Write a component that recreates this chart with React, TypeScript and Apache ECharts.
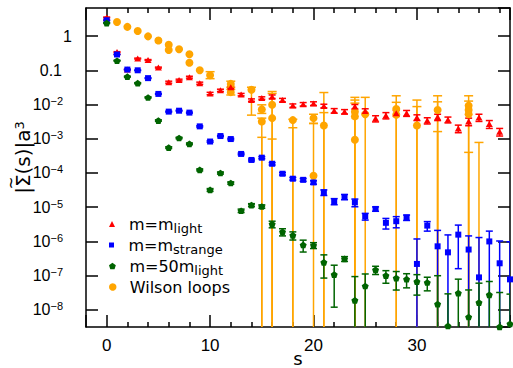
import React, { useEffect, useRef } from "react";
import * as echarts from "echarts";

// Axis ranges (s in lattice units, log10 range of the y axis)
const S_MIN = -2;
const S_MAX = 39;
const Y_MIN = Math.pow(10, -8.5);
const Y_MAX = Math.pow(10, 0.82);

// m = m_light
const lightS = [0, 1, 2, 3, 4, 5, 6, 7, 8, 9, 10, 11, 12, 13, 14, 15, 16, 17, 18, 19, 20, 21, 22, 23, 24, 25, 26, 27, 28, 29, 30, 31, 32, 33, 34, 35, 36, 37, 38];
const lightValue = [3.5, 0.34, 0.105, 0.22, 0.2, 0.12, 0.045, 0.052, 0.063, 0.042, 0.021, 0.026, 0.032, 0.0195, 0.0135, 0.0155, 0.017, 0.0135, 0.0093, 0.0102, 0.0107, 0.0091, 0.0066, 0.0062, 0.0087, 0.0065, 0.0039, 0.0048, 0.0056, 0.0056, 0.0042, 0.0034, 0.0043, 0.0036, 0.002, 0.0032, 0.0042, 0.0027, 0.0016];
const lightError = [0.1, 0.01, 0.003, 0.007, 0.006, 0.004, 0.003, 0.003, 0.004, 0.003, 0.0017, 0.002, 0.0025, 0.0016, 0.0011, 0.0013, 0.002, 0.0016, 0.0011, 0.0012, 0.0013, 0.0011, 0.001, 0.0009, 0.0013, 0.001, 0.0008, 0.001, 0.0011, 0.0011, 0.0008, 0.0007, 0.0009, 0.0007, 0.0005, 0.0008, 0.001, 0.0007, 0.0004];

// m = m_strange
const strangeS = [0, 1, 2, 3, 4, 5, 6, 7, 8, 9, 10, 11, 12, 13, 14, 15, 16, 17, 18, 19, 20, 21, 22, 23, 24, 25, 26, 27, 28, 29, 30, 31, 32, 33, 34, 35, 36, 37, 38, 39];
const strangeValue = [2.9, 0.29, 0.105, 0.1, 0.059, 0.0204, 0.0062, 0.0066, 0.0058, 0.0023, 0.00083, 0.0012, 0.00098, 0.00036, 0.00024, 0.00028, 0.000186, 9.5e-5, 6.8e-5, 6.3e-5, 5.3e-5, 2.7e-5, 1.48e-5, 2.0e-5, 1.38e-5, 5.4e-6, 8.9e-6, 3.5e-6, 3.9e-6, 5.0e-6, 2.2e-7, 2.9e-6, 7.2e-7, 4.8e-7, 1.58e-6, 5.8e-7, 8.9e-8, 1.0e-6, 2.3e-7, 7.8e-8];
const strangeError = [0.06, 0.006, 0.002, 0.002, 0.0015, 0.0006, 0.0002, 0.0002, 0.0002, 0.0001, 4e-5, 5e-5, 5e-5, 2e-5, 1.5e-5, 2e-5, 1.5e-5, 8e-6, 6e-6, 6e-6, 6e-6, 5e-6, 3e-6, 3.5e-6, 3.5e-6, 1.2e-6, 1.3e-6, 1.2e-6, 1.4e-6, 9e-7, 9.6e-7, 9e-7, 1.38e-6, 1.07e-6, 1.42e-6, 8.7e-7, 1.21e-6, 1.0e-6, 8.0e-7, 9e-7];

// m = 50 m_light
const heavyS = [0, 1, 2, 3, 4, 5, 6, 7, 8, 9, 10, 11, 12, 13, 14, 15, 16, 17, 18, 19, 20, 21, 22, 23, 24, 25, 26, 27, 28, 29, 30, 31, 32, 33, 34, 35, 36, 37, 38, 39];
const heavyValue = [2.4, 0.19, 0.065, 0.042, 0.016, 0.0034, 5.5e-4, 1.05e-3, 7.1e-4, 1.23e-4, 3.2e-5, 1.0e-4, 5.1e-5, 7.9e-6, 1.15e-5, 1.05e-5, 3.2e-6, 1.9e-6, 1.5e-6, 7.9e-7, 7.7e-7, 2.45e-7, 1.07e-7, 3.1e-7, 1.9e-8, 5.0e-8, 1.48e-7, 1.0e-7, 8.5e-8, 7.9e-8, 6.7e-8, 6.3e-8, 1.47e-8, 3.4e-9, 3.1e-8, 6.2e-9, 1.63e-8, 2.75e-8, 3.2e-9, 3.9e-9];
const heavyError = [0.06, 0.005, 0.002, 0.0015, 0.0006, 0.00015, 3e-5, 5e-5, 4e-5, 8e-6, 3e-6, 7e-6, 4e-6, 9e-7, 1.2e-6, 1.2e-6, 7e-7, 4.5e-7, 4e-7, 3e-7, 1.5e-7, 1.6e-7, 9.5e-8, 5e-8, 7.5e-8, 6.2e-8, 4e-8, 4e-8, 4.7e-8, 3.5e-8, 4e-8, 2.7e-8, 8.5e-8, 2.6e-8, 4.8e-8, 3.2e-8, 4.4e-8, 4e-8, 2.9e-8, 2.5e-8];

// Wilson loops: points, and their error bars (a lower bound of 0 runs off the bottom)
const wilsonS = [1, 2, 3, 4, 5, 6, 6, 7, 8, 8, 9, 10, 12, 12, 14, 15, 15, 16, 16, 18, 20, 20, 21, 24, 24, 24, 25, 28, 28, 30, 32, 35, 35, 35];
const wilsonValue = [2.57, 1.86, 1.4, 0.98, 0.74, 0.56, 0.39, 0.41, 0.295, 0.166, 0.1, 0.072, 0.04, 0.023, 0.027, 0.0072, 0.0032, 0.0098, 0.004, 0.0035, 0.004, 8.3e-5, 0.00245, 0.0062, 0.0045, 0.00093, 0.0052, 0.0074, 0.005, 0.00245, 0.0069, 0.0093, 0.0069, 0.0052];
const wilsonErrS = [10, 12, 12, 14, 15, 15, 15, 16, 16, 16, 18, 18, 20, 20, 21, 21, 24, 24, 24, 25, 28, 28, 30, 30, 32, 32, 32, 35, 35, 35, 36];
const wilsonErrLow = [0.057, 0.032, 0.019, 0.0049, 0.0055, 0, 0, 0, 0, 0, 0, 0, 0.0028, 0, 0, 0, 0, 0, 0, 0, 0, 0, 0, 0, 0, 0, 0, 0, 0, 0, 0];
const wilsonErrHigh = [0.091, 0.048, 0.0277, 0.032, 0.0098, 0.004, 0.0011, 0.024, 0.021, 0.00098, 0.0037, 0.0021, 0.0052, 0.0028, 0.0224, 0.0058, 0.0162, 0.0135, 0.011, 0.0162, 0.018, 0.0116, 0.0135, 0.0087, 0.018, 0.012, 0.00162, 0.018, 0.0126, 0.0004, 0.00078];

const RED = "#ff0000";
const BLUE = "#0000ff";
const GREEN = "#006400";
const ORANGE = "#ffa500";
const TICK_FONT = "Liberation Sans";
const TEXT_FONT = "DejaVu Sans";

const TRIANGLE = "path://M0,10 L5,0 L10,10 Z";
const SQUARE = "path://M0,0 L10,0 L10,10 L0,10 Z";
const PENTAGON = "path://M5,0 L10,3.63 L8.09,9.51 L1.91,9.51 L0,3.63 Z";

const legendLabels: Record<string, string> = {
  light: "m=m{sub|light}",
  strange: "m=m{sub|strange}",
  heavy: "m=50m{sub|light}",
  wilson: "Wilson loops",
};

function symmetricBars(s: number[], v: number[], e: number[]) {
  return s.map((x, i) => [x, v[i] - e[i], v[i] + e[i]]);
}

function errorBarRenderer(capWidth: number, color: string) {
  return (params: any, api: any) => {
    const s = api.value(0);
    const lo = api.value(1);
    const hi = api.value(2);
    const cs = params.coordSys;
    const top = api.coord([s, hi]);
    const x = top[0];
    const yHi = top[1];
    const yLo = lo > 0 ? api.coord([s, lo])[1] : cs.y + cs.height + 4;
    const style = { stroke: color, lineWidth: 1.5 };
    const half = capWidth / 2;
    const children: any[] = [
      { type: "line", shape: { x1: x, y1: yHi, x2: x, y2: yLo }, style },
      { type: "line", shape: { x1: x - half, y1: yHi, x2: x + half, y2: yHi }, style },
    ];
    if (lo > 0) {
      children.push({ type: "line", shape: { x1: x - half, y1: yLo, x2: x + half, y2: yLo }, style });
    }
    return { type: "group", children };
  };
}

function errorSeries(name: string, data: number[][], capWidth: number, color: string) {
  return {
    name,
    type: "custom",
    dimensions: ["s", "lo", "hi"],
    encode: { x: 0, y: 2 },
    data,
    clip: true,
    silent: true,
    renderItem: errorBarRenderer(capWidth, color),
  };
}

function pointSeries(name: string, s: number[], v: number[], symbol: string, size: any, color: string) {
  return {
    name,
    type: "scatter",
    data: s.map((x, i) => [x, v[i]]),
    symbol,
    symbolSize: size,
    symbolKeepAspect: true,
    itemStyle: { color, opacity: 1 },
    silent: true,
  };
}

// lineBox: height of the legend text line; the subscript sits at its bottom
function legendFor(name: string, icon: string, size: number, rowY: number, lineBox: number) {
  return {
    data: [{ name, icon }],
    left: 109,
    top: rowY - lineBox / 2,
    padding: 0,
    itemWidth: 24,
    itemHeight: size,
    selectedMode: false,
    formatter: (n: string) => legendLabels[n],
    textStyle: {
      fontFamily: TEXT_FONT,
      fontSize: 16,
      color: "#000",
      lineHeight: Math.min(lineBox, 18),
      rich: {
        sub: { fontFamily: TEXT_FONT, fontSize: 13, lineHeight: lineBox, verticalAlign: "bottom", color: "#000" },
      },
    },
  };
}

function yLabel(value: number) {
  const e = Math.round(Math.log10(value));
  if (e === 0) return "{one|1}";
  if (e === -1) return "{tenth|0.1}";
  return `{n|10}{sup|\u2212${-e}}`;
}

const axisLineStyle = { color: "#000", width: 1.5 };

export default function App() {
  const ref = useRef<HTMLDivElement>(null);

  useEffect(() => {
    if (!ref.current) return;
    const chart = echarts.init(ref.current, undefined, { renderer: "svg" });

    const xCommon = {
      type: "value",
      min: S_MIN,
      max: S_MAX,
      splitNumber: 4,
      axisLine: { show: true, onZero: false, lineStyle: axisLineStyle },
      axisTick: { show: true, inside: true, length: 12, lineStyle: axisLineStyle },
      minorTick: { show: true, splitNumber: 5, length: 5, lineStyle: axisLineStyle },
      splitLine: { show: false },
      minorSplitLine: { show: false },
    };
    const yCommon = {
      type: "log",
      logBase: 10,
      min: Y_MIN,
      max: Y_MAX,
      axisLine: { show: true, onZero: false, lineStyle: axisLineStyle },
      axisTick: { show: true, inside: true, length: 12, lineStyle: axisLineStyle },
      minorTick: { show: false },
      splitLine: { show: false },
      minorSplitLine: { show: false },
    };

    chart.setOption({
      animation: false,
      backgroundColor: "#fff",
      grid: { left: 86, right: 3, top: 8, bottom: 41, containLabel: false, outerBoundsMode: "none" },
      xAxis: [
        {
          ...xCommon,
          position: "bottom",
          axisLabel: {
            margin: 10,
            fontFamily: TICK_FONT,
            fontSize: 17,
            color: "#000",
            showMinLabel: false,
            showMaxLabel: false,
          },
          name: "s",
          nameLocation: "middle",
          nameGap: 22,
          nameMoveOverlap: false,
          nameTextStyle: { fontFamily: TEXT_FONT, fontSize: 18, lineHeight: 18, color: "#000" },
        },
        { ...xCommon, position: "top", axisLabel: { show: false } },
      ],
      yAxis: [
        {
          ...yCommon,
          position: "left",
          axisLabel: {
            margin: 14,
            color: "#000",
            showMinLabel: false,
            showMaxLabel: false,
            formatter: yLabel,
            rich: {
              one: { fontFamily: TICK_FONT, fontSize: 16, lineHeight: 18, color: "#000" },
              tenth: { fontFamily: TICK_FONT, fontSize: 16, lineHeight: 18, color: "#000", padding: [0, 10, 0, 0] },
              n: { fontFamily: TICK_FONT, fontSize: 16, lineHeight: 18, color: "#000" },
              sup: { fontFamily: TICK_FONT, fontSize: 11, lineHeight: 11, verticalAlign: "top", color: "#000", padding: [0, 9, 0, 0] },
            },
          },
          name: "|\u03A3(s)|a{sup|3}",
          nameLocation: "middle",
          nameRotate: 90,
          nameGap: 53,
          nameMoveOverlap: false,
          nameTextStyle: {
            fontFamily: TEXT_FONT,
            fontSize: 20,
            color: "#000",
            padding: [0, 0, 0, 20],
            rich: {
              sup: { fontFamily: TEXT_FONT, fontSize: 13, verticalAlign: "top", color: "#000" },
            },
          },
        },
        { ...yCommon, position: "right", axisLabel: { show: false } },
      ],
      // tilde over the Sigma of the rotated y-axis title
      graphic: [
        {
          type: "text",
          x: 11,
          y: 183,
          rotation: Math.PI / 2,
          silent: true,
          style: {
            text: "~",
            font: `15px "${TEXT_FONT}"`,
            fill: "#000",
            align: "center",
            verticalAlign: "middle",
          },
        },
      ],
      legend: [
        legendFor("light", TRIANGLE, 6, 224, 21),
        legendFor("strange", SQUARE, 5, 245, 21),
        legendFor("heavy", PENTAGON, 6.5, 266, 21),
        legendFor("wilson", "circle", 7.5, 287, 16),
      ],
      series: [
        errorSeries(
          "wilsonErr",
          wilsonErrS.map((s, i) => [s, wilsonErrLow[i], wilsonErrHigh[i]]),
          9,
          ORANGE
        ),
        pointSeries("wilson", wilsonS, wilsonValue, "circle", 8, ORANGE),
        errorSeries("lightErr", symmetricBars(lightS, lightValue, lightError), 7, RED),
        pointSeries("light", lightS, lightValue, "triangle", [7, 6], RED),
        errorSeries("strangeErr", symmetricBars(strangeS, strangeValue, strangeError), 7, BLUE),
        pointSeries("strange", strangeS, strangeValue, "rect", 6, BLUE),
        errorSeries("heavyErr", symmetricBars(heavyS, heavyValue, heavyError), 7, GREEN),
        pointSeries("heavy", heavyS, heavyValue, PENTAGON, 7, GREEN),
      ],
    });

    return () => chart.dispose();
  }, []);

  return (
    <div
      ref={ref}
      style={{ position: "absolute", left: 0, top: 0, width: 513, height: 368, background: "#fff" }}
    />
  );
}
